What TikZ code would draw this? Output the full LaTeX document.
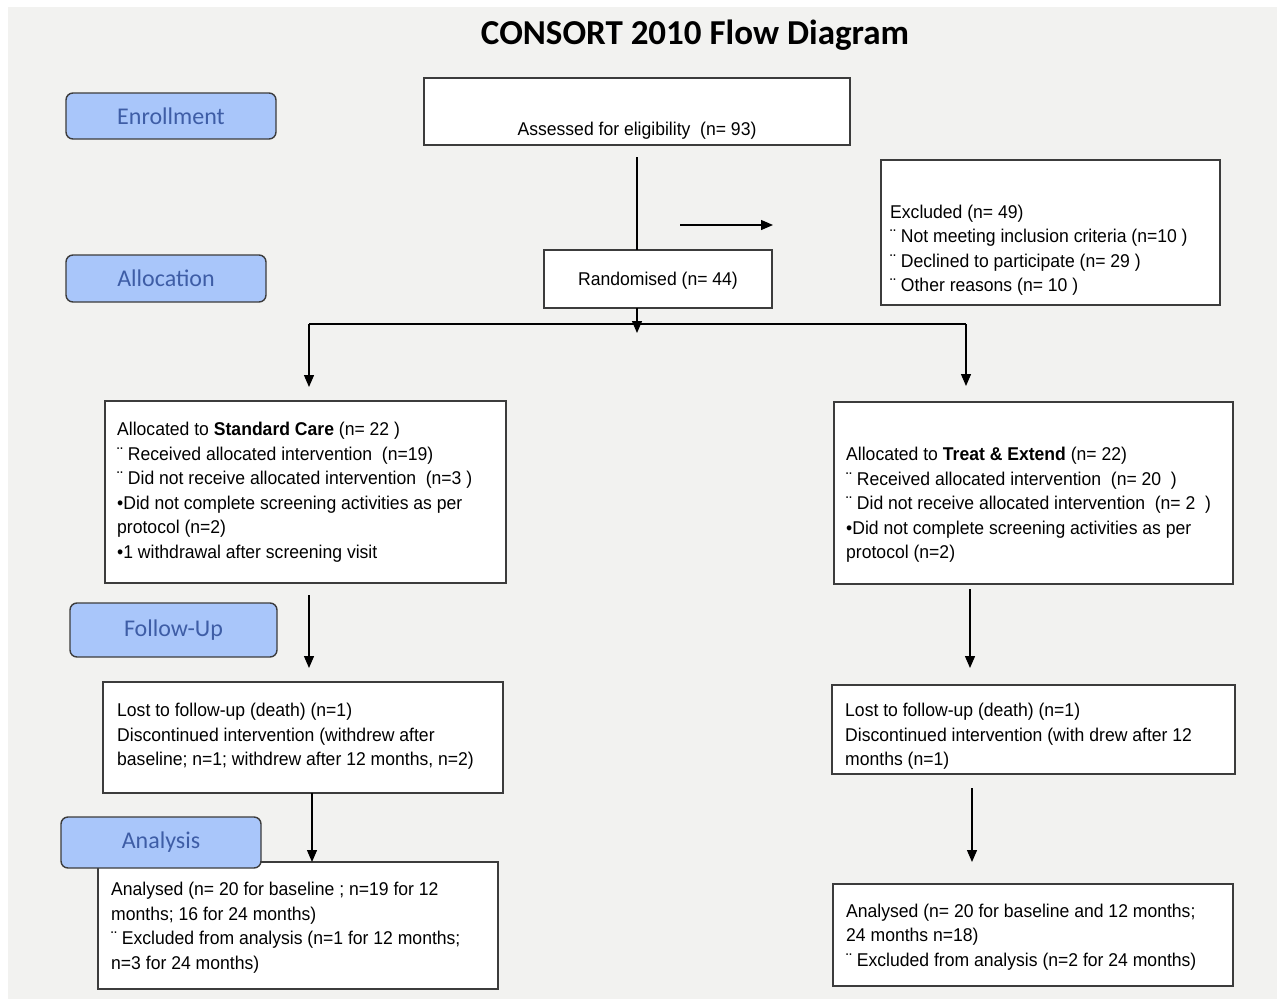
\documentclass[tikz,border=0pt]{standalone}
\usepackage{fontspec}
\setmainfont{Liberation Sans}
\newfontfamily\boxfont[FakeStretch=0.95]{Liberation Sans}
\newfontfamily\phasefont{Carlito}
\usepackage{xcolor}
\usetikzlibrary{positioning,arrows.meta}
\definecolor{bggray}{HTML}{F2F2F0}
\definecolor{phasefill}{HTML}{A9C6FA}
\definecolor{phasetext}{HTML}{3E5DA6}
\definecolor{edgegray}{HTML}{3C3C3C}

\begin{document}
\begin{tikzpicture}[x=1pt, y=-1pt,
    flowbox/.style={rectangle, draw=edgegray, line width=1.4pt, fill=white,
                    inner sep=0pt, outer sep=0pt},
    flowtext/.style={anchor=west, align=left, inner sep=0pt,
                     font=\boxfont\fontsize{18.5}{24.5}\selectfont},
    phase/.style={rectangle, rounded corners=7pt, draw=edgegray, line width=1.4pt,
                  fill=phasefill, text=phasetext, inner sep=0pt, outer sep=0pt,
                  font=\phasefont\fontsize{24}{28}\selectfont},
    arr/.style={line width=1.3pt, -{Triangle[width=10pt,length=12pt]}},
    link/.style={line width=1.3pt}]
    \useasboundingbox (0,0) rectangle (1283,999);
    \fill[bggray] (8,7) rectangle (1277,999);

    % Title
    \node[font=\phasefont\bfseries\fontsize{35}{41}\selectfont] (title) at (695,35)
        {CONSORT 2010 Flow Diagram};

    % Boxes
    \node[flowbox, minimum width=426, minimum height=67] (assess) at (637,111.5) {};
    \node[flowbox, minimum width=228, minimum height=58] (rand) at (658,279) {};
    \node[flowbox, minimum width=339, minimum height=145] (excl) at (1050.5,232.5) {};
    \node[flowbox, minimum width=401, minimum height=182] (stdcare) at (305.5,492) {};
    \node[flowbox, minimum width=399, minimum height=182] (treat) at (1033.5,493) {};
    \node[flowbox, minimum width=400, minimum height=111] (fupL) at (303,737.5) {};
    \node[flowbox, minimum width=403, minimum height=89] (fupR) at (1033.5,729.5) {};
    \node[flowbox, minimum width=400, minimum height=127] (anaL) at (298,925.5) {};
    \node[flowbox, minimum width=400, minimum height=102] (anaR) at (1033,935) {};

    % Box texts
    \node[flowtext, anchor=center] (assesstxt) at ([yshift=-19pt]assess.center)
        {Assessed for eligibility~ (n= 93)};
    \node[flowtext, anchor=center] (randtxt) at ([yshift=-1.5pt]rand.center) {Randomised (n= 44)};
    \node[flowtext] (excltxt) at ([xshift=9pt,yshift=-17.5pt]excl.west)
        {Excluded (n= 49)\\
         ¨ Not meeting inclusion criteria (n=10 )\\
         ¨ Declined to participate (n= 29 )\\
         ¨ Other reasons (n= 10 )};
    \node[flowtext] (stdcaretxt) at ([xshift=12pt,yshift=0pt]stdcare.west)
        {Allocated to \textbf{Standard Care} (n= 22 )\\
         ¨ Received allocated intervention~ (n=19)\\
         ¨ Did not receive allocated intervention~ (n=3 )\\
         •Did not complete screening activities as per\\
         protocol (n=2)\\
         •1 withdrawal after screening visit};
    \node[flowtext] (treattxt) at ([xshift=12pt,yshift=-12pt]treat.west)
        {Allocated to \textbf{Treat \& Extend} (n= 22)\\
         ¨ Received allocated intervention~ (n= 20~ )\\
         ¨ Did not receive allocated intervention~ (n= 2~ )\\
         •Did not complete screening activities as per\\
         protocol (n=2)};
    \node[flowtext] (fupLtxt) at ([xshift=14pt,yshift=1pt]fupL.west)
        {Lost to follow-up (death) (n=1)\\
         Discontinued intervention (withdrew after\\
         baseline; n=1; withdrew after 12 months, n=2)};
    \node[flowtext] (fupRtxt) at ([xshift=13pt,yshift=-7pt]fupR.west)
        {Lost to follow-up (death) (n=1)\\
         Discontinued intervention (with drew after 12\\
         months (n=1)};
    \node[flowtext] (anaLtxt) at ([xshift=13pt,yshift=-2pt]anaL.west)
        {Analysed (n= 20 for baseline ; n=19 for 12\\
         months; 16 for 24 months)\\
         ¨ Excluded from analysis (n=1 for 12 months;\\
         n=3 for 24 months)};
    \node[flowtext] (anaRtxt) at ([xshift=13pt,yshift=-2pt]anaR.west)
        {Analysed (n= 20 for baseline and 12 months;\\
         24 months n=18)\\
         ¨ Excluded from analysis (n=2 for 24 months)};

    % Column and split points
    \coordinate (split) at (637,324);
    \coordinate (splitL) at (309,324);
    \coordinate (splitR) at (966,324);
    \coordinate (colL) at (312,0);
    \coordinate (colR) at (970,0);
    \coordinate (colR2) at (972,0);
    \coordinate (exfrom) at (680,225);
    \coordinate (exto) at (773,225);

    % Connectors
    \draw[link] ([yshift=-12pt]assess.south) -- (assess.south |- rand.north);
    \draw[arr] (exfrom) -- (exto);
    \draw[arr] (rand.south -| split) -- ([yshift=-9pt]split);
    \draw[link] (splitL) -- (splitR);
    \draw[arr] (splitL) -- ([yshift=14pt]stdcare.north -| splitL);
    \draw[arr] (splitR) -- ([yshift=16pt]treat.north -| splitR);
    \draw[arr] ([yshift=-12pt]stdcare.south -| splitL) -- ([yshift=14pt]fupL.north -| splitL);
    \draw[arr] ([yshift=-5pt]treat.south -| colR) -- ([yshift=17pt]fupR.north -| colR);
    \draw[arr] (fupL.south -| colL) -- (anaL.north -| colL);
    \draw[arr] ([yshift=-14pt]fupR.south -| colR2) -- ([yshift=22pt]anaR.north -| colR2);

    % Phase labels
    \node[phase, minimum width=210, minimum height=46] (enrol) at (171,116) {\raisebox{-2pt}{Enrollment}};
    \node[phase, minimum width=200, minimum height=47] (alloc) at (166,278.5) {\raisebox{-2pt}{Allocation}};
    \node[phase, minimum width=207, minimum height=54] (follow) at (173.5,630) {\raisebox{-2pt}{Follow-Up}};
    \node[phase, minimum width=200, minimum height=51] (analysis) at (161,842.5) {\raisebox{-2pt}{Analysis}};
\end{tikzpicture}
\end{document}
